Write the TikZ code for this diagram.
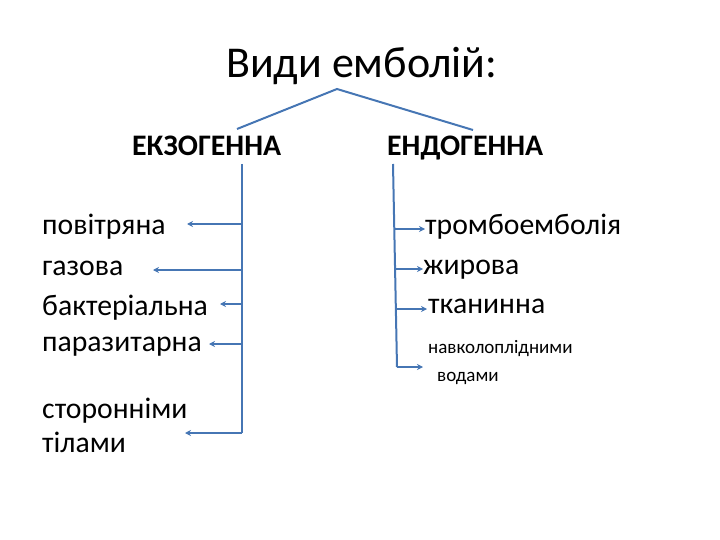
\documentclass[tikz,border=0pt]{standalone}
\usepackage{fontspec}
\setmainfont{Carlito}
\usetikzlibrary{arrows.meta}
\definecolor{lineblue}{RGB}{70,118,180}
\tikzset{
  conn/.style={draw=lineblue, line width=2pt},
  arr/.style={conn, -{Stealth[length=6pt,width=6pt]}},
  item/.style={anchor=base west, inner sep=0pt, font=\fontsize{29.7}{32}\selectfont},
  smallitem/.style={anchor=base west, inner sep=0pt, font=\fontsize{19}{21}\selectfont},
  head/.style={anchor=base west, inner sep=0pt, font=\fontsize{29.8}{32}\selectfont\bfseries},
  titletext/.style={anchor=base west, inner sep=0pt, font=\fontsize{44}{48}\selectfont}
}
\begin{document}
\begin{tikzpicture}[x=1pt,y=-1pt]
\useasboundingbox (0,0) rectangle (720,540);
% title and headings
\node[titletext] (title) at (226,78) {Види емболій:};
\node[head] (exo) at (132,156) {ЕКЗОГЕННА};
\node[head] (endo) at (387,156) {ЕНДОГЕННА};
% bracket under title
\coordinate (bl) at (237,129);
\coordinate (bt) at (337,89);
\coordinate (br) at (473,130);
\draw[conn] (bl) -- (bt) -- (br);
% left items
\node[item] (l1) at (42,235) {повітряна};
\node[item] (l2) at (42,275) {газова};
\node[item] (l3) at (42,315) {бактеріальна};
\node[item] (l4) at (42,351) {паразитарна};
\node[item] (l5) at (42,418) {сторонніми};
\node[item] (l6) at (42,452) {тілами};
% right items
\node[item] (r1) at (425,235) {тромбоемболія};
\node[item] (r2) at (423,274) {жирова};
\node[item] (r3) at (428,313) {тканинна};
\node[smallitem] (r4) at (428,353) {навколоплідними};
\node[smallitem] (r5) at (437,381) {водами};
% left trunk
\coordinate (lt) at (242,164);
\coordinate (lb) at (242,433);
\coordinate (la1) at (242,224);
\coordinate (la2) at (242,270);
\coordinate (la3) at (242,304);
\coordinate (la4) at (242,344);
\draw[conn] (lt) -- (lb);
\draw[arr] (la1) -- (187,224);
\draw[arr] (la2) -- (153,270);
\draw[arr] (la3) -- (220,304);
\draw[arr] (la4) -- (209,344);
\draw[arr] (lb) -- (185,433);
% right trunk
\coordinate (rt) at (393,164);
\coordinate (rb) at (397,367);
\coordinate (ra1) at (394,229);
\coordinate (ra2) at (395,269);
\coordinate (ra3) at (396,309);
\draw[conn] (rt) -- (rb);
\draw[arr] (ra1) -- (425,229);
\draw[arr] (ra2) -- (423,269);
\draw[arr] (ra3) -- (427,309);
\draw[arr] (rb) -- (423,367);
\end{tikzpicture}
\end{document}
